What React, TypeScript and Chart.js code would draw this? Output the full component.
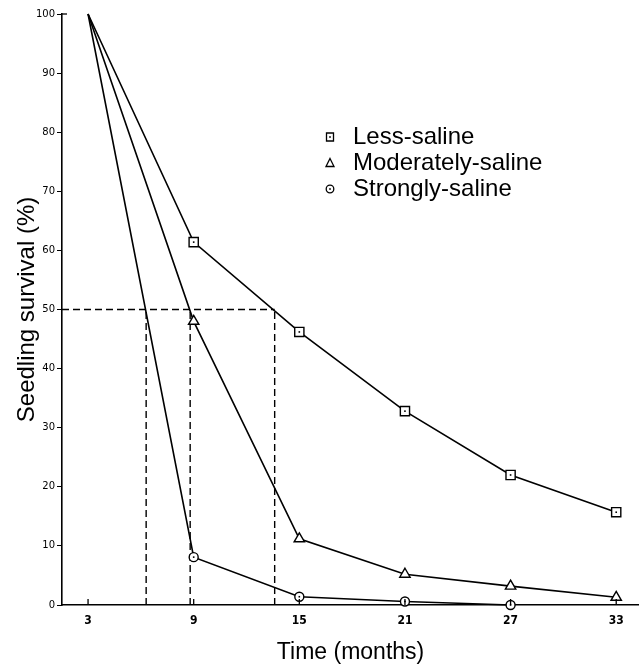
import React, { useEffect, useRef } from "react";
import { Chart, registerables } from "chart.js";

Chart.register(...registerables);

// ---- data ----
const months = [3, 9, 15, 21, 27, 33];
const xTickLabels = ["3", "9", "15", "21", "27", "33"];
const lessSaline = [100, 61.4, 46.2, 32.8, 22.0, 15.7];
const moderatelySaline = [100, 48.0, 11.2, 5.2, 3.2, 1.3];
const stronglySaline = [100, 8.1, 1.4, 0.6, 0];
const seriesNames = ["Less-saline", "Moderately-saline", "Strongly-saline"];
const seriesStyles = ["rect", "triangle", "circle"];
const halfSurvivalLevel = 50;
const halfSurvivalMonths = [6.3, 8.8, 13.6];
const yTicks = [0, 10, 20, 30, 40, 50, 60, 70, 80, 90, 100];
const xMin = 1.52;
const xMax = 34.3;

const toPts = (ys: number[]) => ys.map((y, i) => ({ x: months[i], y }));

const decorPlugin = {
  id: "decor",
  afterDatasetsDraw(chart: any) {
    const ctx = chart.ctx;
    const xs = chart.scales.x;
    const ys = chart.scales.y;
    const area = chart.chartArea;
    ctx.save();
    ctx.strokeStyle = "#000";
    ctx.lineWidth = 1.3;
    // inward x ticks
    months.forEach((m) => {
      const px = xs.getPixelForValue(m);
      ctx.beginPath();
      ctx.moveTo(px, area.bottom);
      ctx.lineTo(px, area.bottom - 6);
      ctx.stroke();
    });
    // small stub at top of y axis
    const topY = ys.getPixelForValue(100);
    ctx.beginPath();
    ctx.moveTo(area.left, topY);
    ctx.lineTo(area.left + 5, topY);
    ctx.stroke();
    // center dots in square and circle markers
    [0, 2].forEach((di) => {
      const meta = chart.getDatasetMeta(di);
      meta.data.forEach((el: any, i: number) => {
        if (i === 0) return;
        ctx.fillStyle = "#000";
        ctx.fillRect(el.x - 0.8, el.y - 0.8, 1.6, 1.6);
      });
    });
    // legend
    const legendX = 330;
    const legendTextX = 353;
    const legendY = [137, 163, 189];
    ctx.font = "24px 'Liberation Sans', Arial, sans-serif";
    ctx.textBaseline = "middle";
    ctx.textAlign = "left";
    seriesNames.forEach((name, i) => {
      const cy = legendY[i];
      ctx.lineWidth = 1.3;
      ctx.strokeStyle = "#000";
      ctx.fillStyle = "#fff";
      ctx.beginPath();
      if (seriesStyles[i] === "rect") {
        ctx.rect(legendX - 3.5, cy - 4, 7, 8);
      } else if (seriesStyles[i] === "triangle") {
        ctx.moveTo(legendX, cy - 4.5);
        ctx.lineTo(legendX + 4, cy + 3.5);
        ctx.lineTo(legendX - 4, cy + 3.5);
        ctx.closePath();
      } else {
        ctx.arc(legendX, cy, 3.8, 0, Math.PI * 2);
      }
      ctx.fill();
      ctx.stroke();
      if (i !== 1) {
        ctx.fillStyle = "#000";
        ctx.fillRect(legendX - 0.8, cy - 0.8, 1.6, 1.6);
      }
      ctx.fillStyle = "#000";
      ctx.fillText(name, legendTextX, cy);
    });
    ctx.restore();
  },
};

export default function App() {
  const ref = useRef<HTMLCanvasElement | null>(null);

  useEffect(() => {
    if (!ref.current) return;
    const seriesCommon = {
      borderColor: "#000",
      borderWidth: 1.6,
      pointBorderColor: "#000",
      pointBackgroundColor: "#fff",
      pointBorderWidth: 1.4,
      showLine: true,
      tension: 0,
      clip: false as any,
    };
    const dashCommon = {
      borderColor: "#000",
      borderWidth: 1.4,
      borderDash: [7, 4],
      pointRadius: 0,
      showLine: true,
      clip: false as any,
    };
    const dashMax = Math.max(...halfSurvivalMonths);
    const datasets: any[] = [
      {
        ...seriesCommon,
        label: seriesNames[0],
        data: toPts(lessSaline),
        pointStyle: "rect",
        pointRadius: (c: any) => (c.dataIndex === 0 ? 0 : 6.5),
      },
      {
        ...seriesCommon,
        label: seriesNames[1],
        data: toPts(moderatelySaline),
        pointStyle: "triangle",
        pointRadius: (c: any) => (c.dataIndex === 0 ? 0 : 6),
      },
      {
        ...seriesCommon,
        label: seriesNames[2],
        data: toPts(stronglySaline),
        pointStyle: "circle",
        pointRadius: (c: any) => (c.dataIndex === 0 ? 0 : 4.5),
      },
      {
        ...dashCommon,
        label: "half-h",
        data: [
          { x: xMin, y: halfSurvivalLevel },
          { x: dashMax, y: halfSurvivalLevel },
        ],
      },
      ...halfSurvivalMonths.map((m) => ({
        ...dashCommon,
        label: "half-v",
        data: [
          { x: m, y: 0 },
          { x: m, y: halfSurvivalLevel },
        ],
      })),
    ];

    const chart = new Chart(ref.current, {
      type: "scatter",
      data: { datasets },
      plugins: [decorPlugin],
      options: {
        animation: false,
        responsive: false,
        devicePixelRatio: 1,
        layout: { padding: { left: 0, right: 0, top: 14, bottom: 0 } },
        plugins: {
          legend: { display: false },
          tooltip: { enabled: false },
        },
        scales: {
          x: {
            type: "linear",
            min: xMin,
            max: xMax,
            afterFit: (s: any) => {
              s.height = 64;
            },
            afterBuildTicks: (s: any) => {
              s.ticks = months.map((v) => ({ value: v }));
            },
            ticks: {
              autoSkip: false,
              maxRotation: 0,
              padding: 9,
              color: "#000",
              font: { family: "'Liberation Sans Narrow', 'DejaVu Sans Condensed', sans-serif", size: 12, weight: "bold" },
              callback: (v: any) => {
                const i = months.indexOf(Number(v));
                return i >= 0 ? xTickLabels[i] : "";
              },
            },
            grid: { display: false, drawTicks: false },
            border: { display: true, color: "#000", width: 1.6 },
            title: {
              display: true,
              text: "Time (months)",
              color: "#000",
              font: { family: "'Liberation Sans', Arial, sans-serif", size: 23 },
              padding: { top: 0, bottom: 3 },
            },
          },
          y: {
            type: "linear",
            min: 0,
            max: 100,
            afterFit: (s: any) => {
              s.width = 62;
            },
            afterBuildTicks: (s: any) => {
              s.ticks = yTicks.map((v) => ({ value: v }));
            },
            ticks: {
              padding: 2,
              color: "#000",
              font: { family: "'DejaVu Sans', sans-serif", size: 10 },
            },
            grid: {
              display: true,
              drawOnChartArea: false,
              drawTicks: true,
              tickLength: 5,
              color: "#000",
              lineWidth: 1,
            },
            border: { display: true, color: "#000", width: 1.6 },
            title: {
              display: true,
              text: "Seedling survival (%)",
              color: "#000",
              font: { family: "'Liberation Sans', Arial, sans-serif", size: 24 },
              padding: { top: 13, bottom: 0 },
            },
          },
        },
      },
    });
    return () => chart.destroy();
  }, []);

  return (
    <div
      style={{
        position: "absolute",
        left: 0,
        top: 0,
        width: 639,
        height: 669,
        overflow: "hidden",
        background: "#fff",
      }}
    >
      <canvas ref={ref} width={647} height={669} style={{ display: "block" }} />
    </div>
  );
}
